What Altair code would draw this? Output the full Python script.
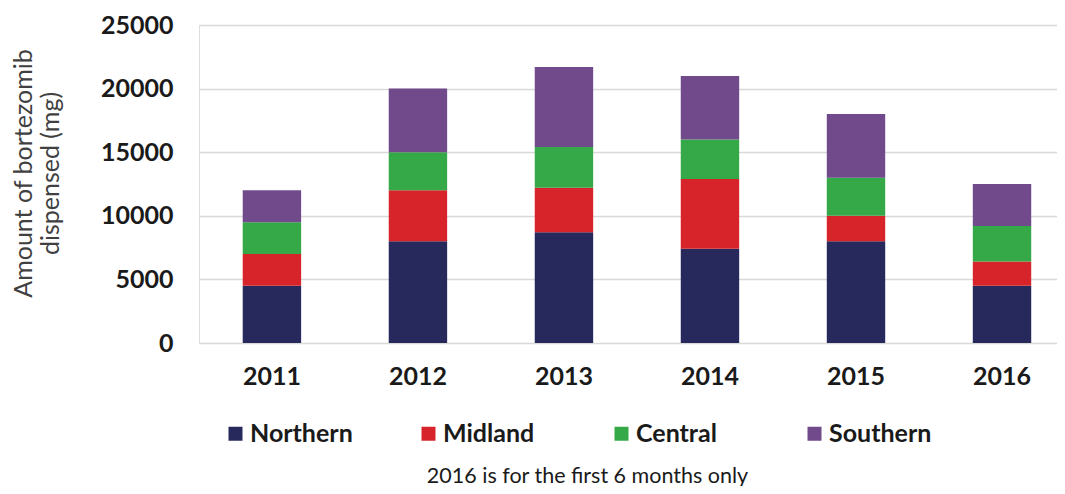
import altair as alt
import pandas as pd

years = ["2011", "2012", "2013", "2014", "2015", "2016"]
regions = ["Northern", "Midland", "Central", "Southern"]
northern = [4500, 8000, 8700, 7400, 8000, 4500]
midland = [2500, 4000, 3500, 5500, 2000, 1900]
central = [2500, 3000, 3200, 3100, 3000, 2800]
southern = [2500, 5000, 6300, 5000, 5000, 3300]
colors = ["#27285C", "#D7242A", "#35A847", "#714A8C"]
y_ticks = [0, 5000, 10000, 15000, 20000, 25000]

series = [northern, midland, central, southern]
rows = []
for ri, (reg, vals) in enumerate(zip(regions, series)):
    for y, v in zip(years, vals):
        rows.append({"Year": y, "Region": reg, "Amount": v, "order": ri})
df = pd.DataFrame(rows)

FONT = "Lato"

chart = alt.Chart(df).mark_bar().encode(
    x=alt.X(
        "Year:N",
        sort=years,
        scale=alt.Scale(paddingInner=0.6, paddingOuter=0.238, align=0.629),
        axis=alt.Axis(
            title="2016 is for the first 6 months only",
            labelAngle=0,
            labelFont=FONT,
            labelFontSize=25,
            labelFontWeight="bold",
            labelColor="#1a1a1a",
            labelPadding=21,
            ticks=False,
            domain=False,
            titleFont=FONT,
            titleFontSize=21.5,
            titleFontWeight="normal",
            titleColor="#1a1a1a",
            titleX=388,
            titleY=139,
            titleAlign="center",
            titleBaseline="alphabetic",
        ),
    ),
    y=alt.Y(
        "Amount:Q",
        stack="zero",
        scale=alt.Scale(domain=[0, 25000], nice=False),
        axis=alt.Axis(
            title=["Amount of bortezomib", "dispensed (mg)"],
            values=y_ticks,
            format="d",
            labelFont=FONT,
            labelFontSize=25,
            labelFontWeight="bold",
            labelColor="#1a1a1a",
            labelPadding=26,
            ticks=False,
            domain=False,
            grid=True,
            gridColor="#d9d9d9",
            gridWidth=1.5,
            titleFont=FONT,
            titleFontSize=25,
            titleFontWeight="normal",
            titleColor="#404040",
            titleLineHeight=27,
            titleX=-163,
            titleY=148,
            titleBaseline="bottom",
            titleAngle=270,
        ),
    ),
    color=alt.Color(
        "Region:N",
        scale=alt.Scale(domain=regions, range=colors),
        legend=alt.Legend(
            title=None,
            orient="none",
            legendX=24,
            legendY=396,
            direction="horizontal",
            columns=4,
            gridAlign="all",
            columnPadding=63,
            symbolType="square",
            symbolSize=196,
            symbolStrokeWidth=0,
            symbolOpacity=1,
            labelFont=FONT,
            labelFontSize=25,
            labelFontWeight="bold",
            labelColor="#1a1a1a",
            labelOffset=2,
            labelLimit=300,
            padding=0,
        ),
    ),
    order=alt.Order("order:Q", sort="ascending"),
).properties(
    width=858,
    height=318,
    autosize=alt.AutoSizeParams(type="none"),
    padding={"left": 191, "top": 17, "right": 0, "bottom": 143},
).configure_view(stroke=None).configure(background="white")

chart.save("out.html", embed_options={"renderer": "svg", "actions": False})
